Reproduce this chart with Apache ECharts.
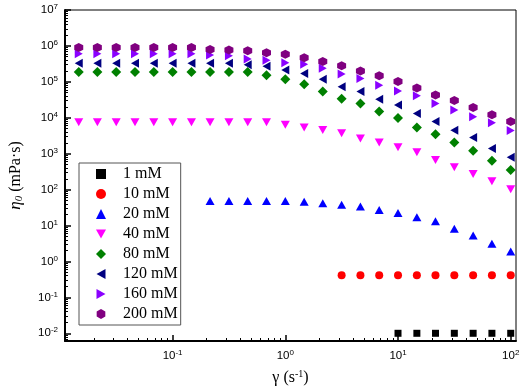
<!DOCTYPE html>
<html>
<head>
<meta charset="utf-8">
<script src="https://cdn.jsdelivr.net/npm/echarts@6/dist/echarts.min.js"></script>
<style>
  html, body { margin: 0; padding: 0; background: #fff; }
  #chart { width: 526px; height: 388px; }
</style>
</head>
<body>
<div id="chart"></div>
<script>
// Taux de cisaillement (s^-1), 6 points par décade
const shearRate = [0.0147, 0.0215, 0.0316, 0.0464, 0.0681, 0.1, 0.147, 0.215, 0.316, 0.464, 0.681, 1,
                   1.47, 2.15, 3.16, 4.64, 6.81, 10, 14.7, 21.5, 31.6, 46.4, 68.1, 100];

const seriesNames = ['1 mM', '10 mM', '20 mM', '40 mM', '80 mM', '120 mM', '160 mM', '200 mM'];

// Viscosités (mPa·s) ; chaque série se termine à 100 s^-1
const eta1mM = [0.01, 0.01, 0.01, 0.01, 0.01, 0.01, 0.01];
const eta10mM = [0.41, 0.41, 0.41, 0.41, 0.41, 0.41, 0.41, 0.41, 0.41, 0.41];
const eta20mM = [48, 48, 48, 48, 48, 46, 41.6, 38, 34, 27, 22.5, 17, 13.2, 8.1, 5.3, 3.1, 1.9];
const eta40mM = [7500, 7500, 7500, 7500, 7500, 7500, 7500, 7500, 7500, 7500, 7500, 6400,
                 5400, 4600, 3700, 2660, 2060, 1500, 1090, 670, 420, 270, 170, 103];
const eta80mM = [187000, 187000, 187000, 187000, 187000, 187000, 187000, 187000, 187000, 187000, 153000, 119000,
                 86000, 54000, 34000, 25000, 15000, 9800, 5400, 3500, 2060, 1210, 640, 350];
const eta120mM = [330000, 330000, 330000, 330000, 330000, 330000, 330000, 330000, 330000, 300000, 270000, 215000,
                  170000, 119000, 73000, 54000, 33000, 22500, 13200, 7900, 4500, 2800, 1400, 790];
const eta160mM = [610000, 610000, 610000, 610000, 610000, 610000, 610000, 560000, 530000, 430000, 400000, 340000,
                  310000, 240000, 164000, 124000, 81000, 56000, 41000, 25000, 16400, 10700, 7300, 4400];
const eta200mM = [900000, 900000, 900000, 900000, 900000, 900000, 900000, 800000, 770000, 730000, 650000, 590000,
                  470000, 370000, 280000, 200000, 147000, 102000, 67000, 43000, 30000, 19300, 12100, 7900];

const xTickValues = [0.1, 1, 10, 100];
const yTickValues = [1e-2, 1e-1, 1, 10, 100, 1e3, 1e4, 1e5, 1e6, 1e7];

const colors = ['#000000', '#FF0000', '#0000FF', '#FF00FF', '#008000', '#000080', '#8A00FF', '#800080'];
const symbols = [
    'rect',
    'circle',
    'triangle',
    'path://M0,0L10,0L5,9Z',
    'diamond',
    'path://M9,0L9,10L0,5Z',
    'path://M0,0L0,10L9,5Z',
    'path://M5,0L9.33,2.5L9.33,7.5L5,10L0.67,7.5L0.67,2.5Z'
];
const symbolSizes = [7, 8, [9, 8], [9, 8], 10, [8, 9], [8, 9], 9];

const serif = 'Liberation Serif';
const sans = 'Liberation Sans';

// Graduations secondaires (2..9 dans chaque décade)
function minorTicks(fromExp, toExp, lo, hi) {
    const out = [];
    for (let e = fromExp; e <= toExp; e++) {
        for (let m = 2; m <= 9; m++) {
            const v = m * Math.pow(10, e);
            if (v > lo && v < hi) out.push(v);
        }
    }
    return out;
}

function powLabel(v) {
    const e = Math.round(Math.log10(v));
    return '{b|10}{s|' + e + '}';
}

const labelRich = {
    b: { fontFamily: sans, fontSize: 11.5, color: '#000', lineHeight: 14 },
    s: { fontFamily: sans, fontSize: 8, color: '#000', lineHeight: 8, verticalAlign: 'top' }
};

const xMin = 0.0111, xMax = 111.4, yMin = 0.0061, yMax = 1e7;

function pairs(values) {
    const xs = shearRate.slice(shearRate.length - values.length);
    return values.map((v, i) => [xs[i], v]);
}

const allEta = [eta1mM, eta10mM, eta20mM, eta40mM, eta80mM, eta120mM, eta160mM, eta200mM];

const series = allEta.map((vals, i) => ({
    name: seriesNames[i],
    type: 'scatter',
    symbol: symbols[i],
    symbolSize: symbolSizes[i],
    itemStyle: { color: colors[i], opacity: 1 },
    data: pairs(vals)
}));

const chart = echarts.init(document.getElementById('chart'), null, { renderer: 'canvas' });

chart.setOption({
    animation: false,
    backgroundColor: '#fff',
    grid: {
        left: 65, right: 10, top: 10, bottom: 47,
        show: true, borderColor: '#000', borderWidth: 1,
        outerBoundsMode: 'none'
    },
    legend: {
        orient: 'vertical',
        left: 79, top: 163,
        padding: [3, 3, 3, 17],
        itemGap: 4,
        itemWidth: 10, itemHeight: 10,
        borderColor: '#555', borderWidth: 1,
        backgroundColor: '#fff',
        data: seriesNames,
        // espace entre le symbole et le texte
        formatter: name => '{p|}{t|' + name + '}',
        textStyle: {
            rich: {
                p: { width: 12 },
                t: { fontFamily: serif, fontSize: 16, color: '#000', lineHeight: 16 }
            }
        }
    },
    xAxis: [
        {
            type: 'log', min: xMin, max: xMax, position: 'bottom',
            name: '{g|γ (s}{s|-1}{g|)}',
            nameLocation: 'middle', nameGap: 28,
            nameTextStyle: {
                rich: {
                    g: { fontFamily: serif, fontSize: 16, color: '#000', lineHeight: 18 },
                    s: { fontFamily: serif, fontSize: 10, color: '#000', lineHeight: 10, verticalAlign: 'top' }
                }
            },
            axisLine: { show: true, lineStyle: { color: '#000', width: 2 } },
            axisTick: { show: true, inside: true, length: 6, customValues: xTickValues, lineStyle: { color: '#000', width: 1.5 } },
            axisLabel: { margin: 8, customValues: xTickValues, formatter: powLabel, rich: labelRich },
            splitLine: { show: false }
        },
        {
            type: 'log', min: xMin, max: xMax, position: 'bottom',
            axisLine: { show: false },
            axisTick: { show: true, inside: true, length: 3, customValues: minorTicks(-2, 1, xMin, xMax), lineStyle: { color: '#000', width: 1 } },
            axisLabel: { show: false },
            splitLine: { show: false }
        }
    ],
    yAxis: [
        {
            type: 'log', min: yMin, max: yMax, position: 'left',
            name: '{e|η}{n|0}{g| (mPa·s)}',
            nameLocation: 'middle', nameGap: 40,
            nameTextStyle: {
                rich: {
                    e: { fontFamily: serif, fontSize: 17, fontStyle: 'italic', color: '#000', lineHeight: 18 },
                    n: { fontFamily: serif, fontSize: 11, fontStyle: 'italic', color: '#000', lineHeight: 10, verticalAlign: 'bottom' },
                    g: { fontFamily: serif, fontSize: 16, color: '#000', lineHeight: 18 }
                }
            },
            axisLine: { show: true, lineStyle: { color: '#000', width: 2 } },
            axisTick: { show: true, inside: true, length: 6, customValues: yTickValues, lineStyle: { color: '#000', width: 1.5 } },
            axisLabel: { margin: 7, customValues: yTickValues, formatter: powLabel, rich: labelRich },
            splitLine: { show: false }
        },
        {
            type: 'log', min: yMin, max: yMax, position: 'left',
            axisLine: { show: false },
            axisTick: { show: true, inside: true, length: 3, customValues: minorTicks(-3, 6, yMin, yMax), lineStyle: { color: '#000', width: 1 } },
            axisLabel: { show: false },
            splitLine: { show: false }
        }
    ],
    series: series
});

window.addEventListener('resize', () => chart.resize());
</script>
</body>
</html>
